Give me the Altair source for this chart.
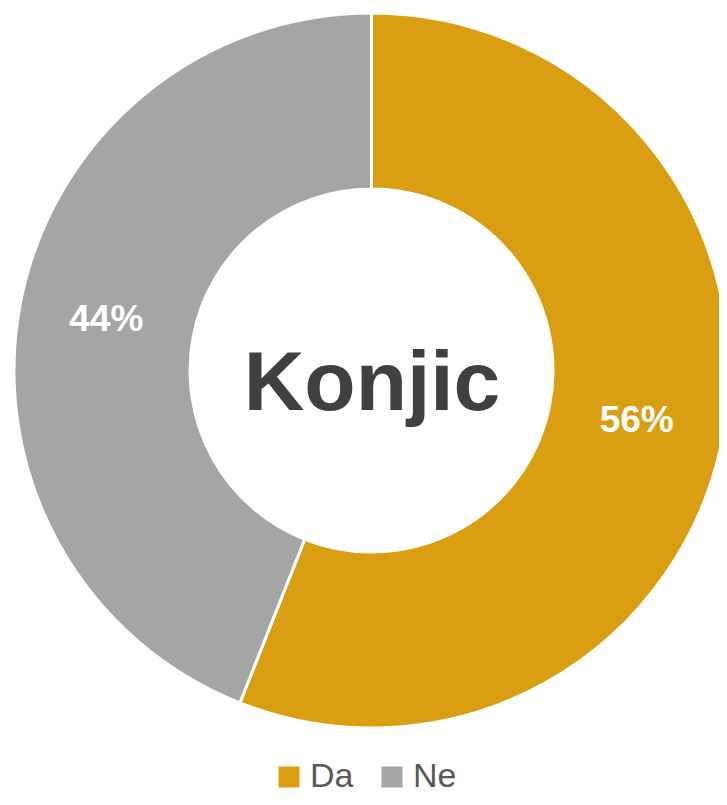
import altair as alt
import pandas as pd

categories = ["Da", "Ne"]
values = [56, 44]
labels = ["56%", "44%"]
colors = ["#D99E12", "#A5A5A5"]
center_label = "Konjic"

df = pd.DataFrame({"cat": categories, "val": values, "lab": labels, "ord": [0, 1]})

CX, CY = 363.5, 362.5

base = alt.Chart(df).encode(
    theta=alt.Theta("val:Q", stack=True),
    order=alt.Order("ord:Q"),
)

arc = base.mark_arc(
    outerRadius=357.5, innerRadius=181.5, stroke="white", strokeWidth=3
).encode(
    x=alt.value(CX), y=alt.value(CY),
    color=alt.Color(
        "cat:N",
        scale=alt.Scale(domain=categories, range=colors),
        legend=alt.Legend(
            title=None, orient="none", legendX=264, legendY=752, padding=0,
            direction="horizontal", symbolType="square", symbolSize=441,
            symbolStrokeWidth=0, labelFontSize=34, labelColor="#595959",
            labelFont="Liberation Sans", columnPadding=21, labelOffset=4,
            symbolOpacity=1,
        ),
    ),
)

txt = base.mark_text(
    radius=270, font="Liberation Sans", fontSize=37, fontWeight="bold",
    color="white", align="center", baseline="middle",
).encode(x=alt.value(CX), y=alt.value(CY), text="lab:N")

center = alt.Chart(pd.DataFrame({"t": [center_label]})).mark_text(
    font="Liberation Sans", fontSize=84, fontWeight="bold", color="#404040",
    align="center", baseline="alphabetic",
).encode(x=alt.value(364), y=alt.value(402), text="t:N")

chart = alt.layer(arc, txt, center).properties(
    width=711, height=789, autosize=alt.AutoSizeParams(type="none"), padding=0
).configure_view(stroke=None)

chart.save("out.html", embed_options={"renderer": "svg", "actions": False})
